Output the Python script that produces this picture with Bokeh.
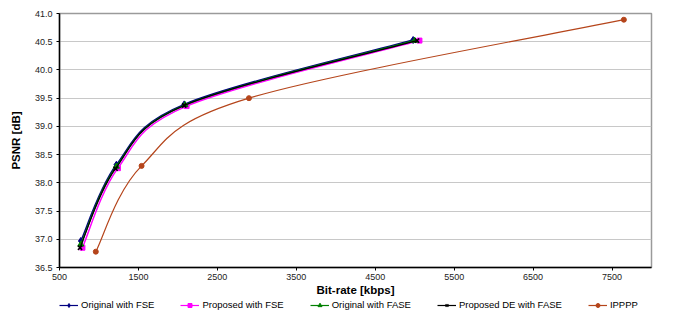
from bokeh.plotting import figure
from bokeh.layouts import column
from bokeh.models import Range1d, FixedTicker, Legend, LegendItem, NumeralTickFormatter
from bokeh.embed import file_html
from bokeh.resources import INLINE

# ---- data ----
orig_fse_x = [770, 1220, 2080, 4980]
orig_fse_y = [36.97, 38.32, 39.39, 40.53]
prop_fse_x = [790, 1240, 2110, 5060]
prop_fse_y = [36.85, 38.26, 39.36, 40.52]
orig_fase_x = [770, 1220, 2090, 5000]
orig_fase_y = [36.91, 38.29, 39.38, 40.52]
prop_de_x = [760, 1210, 2080, 5030]
prop_de_y = [36.85, 38.25, 39.37, 40.52]
ippp_x = [960, 1540, 2900, 7650]
ippp_y = [36.78, 38.30, 39.50, 40.89]

x_ticks = [500, 1500, 2500, 3500, 4500, 5500, 6500, 7500]
y_ticks = [36.5, 37.0, 37.5, 38.0, 38.5, 39.0, 39.5, 40.0, 40.5, 41.0]

FONT = "Liberation Sans"

p = figure(width=657, height=298, output_backend="svg", toolbar_location=None,
           x_range=Range1d(500, 8000), y_range=Range1d(36.5, 41.0),
           min_border_left=59, min_border_right=6, min_border_top=13, min_border_bottom=0)
p.background_fill_color = "white"
p.border_fill_color = "white"
p.outline_line_color = "#9a9a9a"
p.outline_line_width = 1.5

p.xgrid.grid_line_color = None
p.ygrid.grid_line_color = "#c8c8c8"
p.ygrid.grid_line_width = 1
p.ygrid.ticker = FixedTicker(ticks=y_ticks)

for ax in (p.xaxis[0], p.yaxis[0]):
    ax.axis_line_color = "black"
    ax.axis_line_width = 1.5
    ax.major_tick_line_color = "black"
    ax.major_tick_out = 3
    ax.major_tick_in = 0
    ax.minor_tick_line_color = None
    ax.major_label_text_font = FONT
    ax.major_label_text_font_size = "9px"
    ax.major_label_text_color = "#222222"
    ax.axis_label_text_font = FONT
    ax.axis_label_text_font_style = "bold"
    ax.axis_label_text_font_size = "11.5px"
    ax.axis_label_text_color = "black"

p.xaxis.ticker = FixedTicker(ticks=x_ticks)
p.yaxis.ticker = FixedTicker(ticks=y_ticks)
p.yaxis.formatter = NumeralTickFormatter(format="0.0")
p.xaxis.axis_label = "Bit-rate [kbps]"
p.yaxis.axis_label = "PSNR [dB]"
p.xaxis.major_label_standoff = 3
p.xaxis.axis_label_standoff = 1
p.yaxis.major_label_standoff = 4
p.yaxis.axis_label_standoff = 10


def smooth(xs, ys):
    # cubic Bezier segments through the data points (spline-style smoothing)
    n = len(xs)
    x0, y0, x1, y1, cx0, cy0, cx1, cy1 = [], [], [], [], [], [], [], []
    for i in range(n - 1):
        im = max(i - 1, 0)
        ip = min(i + 2, n - 1)
        x0.append(xs[i]); y0.append(ys[i])
        x1.append(xs[i + 1]); y1.append(ys[i + 1])
        cx0.append(xs[i] + (xs[i + 1] - xs[im]) / 6.0)
        cy0.append(ys[i] + (ys[i + 1] - ys[im]) / 6.0)
        cx1.append(xs[i + 1] - (xs[ip] - xs[i]) / 6.0)
        cy1.append(ys[i + 1] - (ys[ip] - ys[i]) / 6.0)
    return dict(x0=x0, y0=y0, x1=x1, y1=y1, cx0=cx0, cy0=cy0, cx1=cx1, cy1=cy1)


series = [
    ("Original with FSE", orig_fse_x, orig_fse_y, "#000080", "diamond", 7, 1.5),
    ("Proposed with FSE", prop_fse_x, prop_fse_y, "#FF00FF", "square", 5, 1.5),
    ("Original with FASE", orig_fase_x, orig_fase_y, "#008000", "triangle", 6, 1.5),
    ("Proposed DE with FASE", prop_de_x, prop_de_y, "#000000", "x", 6, 1.2),
    ("IPPPP", ippp_x, ippp_y, "#B5451B", "circle", 5, 1.2),
]

# legend strip: a small figure whose ranges keep its glyphs out of view
p2 = figure(width=657, height=12, output_backend="svg", toolbar_location=None,
            x_range=Range1d(0, 1), y_range=Range1d(0, 1), x_axis_type=None, y_axis_type=None,
            min_border_left=0, min_border_right=0, min_border_top=0, min_border_bottom=0)
p2.outline_line_color = None
p2.xgrid.grid_line_color = None
p2.ygrid.grid_line_color = None
p2.background_fill_color = "white"
p2.border_fill_color = "white"

items = []
for label, xs, ys, color, marker, size, lw in series:
    p.bezier(line_color=color, line_width=lw, **smooth(xs, ys))
    p.scatter(xs, ys, marker=marker, size=size, fill_color=color, line_color=color,
              line_width=1.5 if marker == "x" else 1)
    ln = p2.line(xs, ys, line_color=color, line_width=1.2)
    m = p2.scatter(xs, ys, marker=marker, size=5, fill_color=color, line_color=color,
                   line_width=1.2 if marker == "x" else 1)
    items.append(LegendItem(label=label, renderers=[ln, m]))

legend = Legend(items=items, orientation="horizontal", location=(0, 0),
                label_text_font=FONT, label_text_font_size="9.5px", label_text_color="black",
                glyph_width=19, glyph_height=10, label_height=10, label_standoff=3,
                spacing=26, padding=0, margin=0, border_line_color=None,
                background_fill_alpha=0, inactive_fill_alpha=0)
p2.add_layout(legend, "center")

open("out.html", "w").write(file_html(column(p, p2, spacing=0), INLINE))
